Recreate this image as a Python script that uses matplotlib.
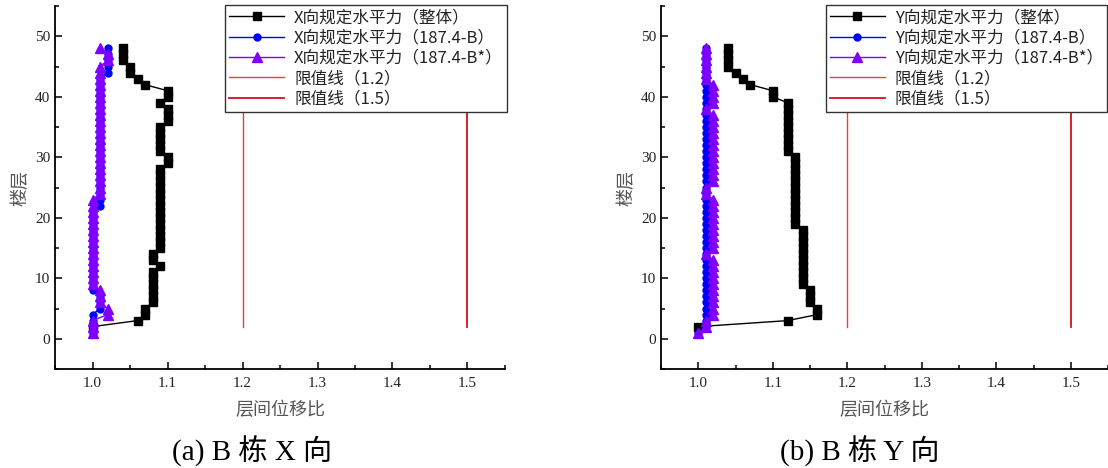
import matplotlib
matplotlib.use("Agg")
import matplotlib.pyplot as plt
from matplotlib.ticker import MultipleLocator

# floors (storeys)
floors_all = list(range(1, 49))
floors_whole = list(range(2, 49))

# (a) X direction
x_whole = [1.00, 1.06, 1.07, 1.07, 1.08, 1.08, 1.08, 1.08, 1.08, 1.08,   # 2-11
           1.09, 1.08, 1.08, 1.09, 1.09, 1.09, 1.09, 1.09, 1.09, 1.09,   # 12-21
           1.09, 1.09, 1.09, 1.09, 1.09, 1.09, 1.09, 1.10, 1.10, 1.09,   # 22-31
           1.09, 1.09, 1.09, 1.09, 1.10, 1.10, 1.10, 1.09, 1.10, 1.10,   # 32-41
           1.07, 1.06, 1.05, 1.05, 1.04, 1.04, 1.04]                     # 42-48
x_b = [1.00, 1.00, 1.00, 1.00, 1.01, 1.01, 1.01, 1.00, 1.00, 1.00,       # 1-10
       1.00, 1.00, 1.00, 1.00, 1.00, 1.00, 1.00, 1.00, 1.00, 1.00,       # 11-20
       1.00, 1.01, 1.01, 1.01, 1.01, 1.01, 1.01, 1.01, 1.01, 1.01,       # 21-30
       1.01, 1.01, 1.01, 1.01, 1.01, 1.01, 1.01, 1.01, 1.01, 1.01,       # 31-40
       1.01, 1.01, 1.01, 1.02, 1.02, 1.02, 1.02, 1.02]                   # 41-48
x_bs = [1.00, 1.00, 1.00, 1.02, 1.02, 1.01, 1.01, 1.01, 1.00, 1.00,      # 1-10
        1.00, 1.00, 1.00, 1.00, 1.00, 1.00, 1.00, 1.00, 1.00, 1.00,      # 11-20
        1.00, 1.00, 1.00, 1.01, 1.01, 1.01, 1.01, 1.01, 1.01, 1.01,      # 21-30
        1.01, 1.01, 1.01, 1.01, 1.01, 1.01, 1.01, 1.01, 1.01, 1.01,      # 31-40
        1.01, 1.01, 1.01, 1.01, 1.01, 1.02, 1.02, 1.01]                  # 41-48

# (b) Y direction
y_whole = [1.00, 1.12, 1.16, 1.16, 1.15, 1.15, 1.15, 1.14, 1.14, 1.14,   # 2-11
           1.14, 1.14, 1.14, 1.14, 1.14, 1.14, 1.14, 1.13, 1.13, 1.13,   # 12-21
           1.13, 1.13, 1.13, 1.13, 1.13, 1.13, 1.13, 1.13, 1.13, 1.12,   # 22-31
           1.12, 1.12, 1.12, 1.12, 1.12, 1.12, 1.12, 1.12, 1.10, 1.10,   # 32-41
           1.07, 1.06, 1.05, 1.04, 1.04, 1.04, 1.04]                     # 42-48
y_b = [1.00, 1.01, 1.01, 1.01, 1.01, 1.01, 1.01, 1.01, 1.01, 1.01,       # 1-10
       1.01, 1.01, 1.01, 1.01, 1.01, 1.01, 1.01, 1.01, 1.01, 1.01,       # 11-20
       1.01, 1.01, 1.01, 1.01, 1.01, 1.01, 1.01, 1.01, 1.01, 1.01,       # 21-30
       1.01, 1.01, 1.01, 1.01, 1.01, 1.01, 1.01, 1.01, 1.01, 1.01,       # 31-40
       1.01, 1.01, 1.01, 1.01, 1.01, 1.01, 1.01, 1.01]                   # 41-48
y_bs = [1.00, 1.01, 1.01, 1.02, 1.02, 1.02, 1.02, 1.02, 1.02, 1.02,      # 1-10
        1.02, 1.02, 1.02, 1.01, 1.02, 1.02, 1.02, 1.02, 1.02, 1.02,      # 11-20
        1.02, 1.02, 1.02, 1.01, 1.01, 1.02, 1.02, 1.02, 1.02, 1.02,      # 21-30
        1.02, 1.02, 1.02, 1.02, 1.02, 1.02, 1.02, 1.01, 1.02, 1.02,      # 31-40
        1.02, 1.02, 1.01, 1.01, 1.01, 1.01, 1.01, 1.01]                  # 41-48

limit_values = [1.2, 1.5]
limit_floors = [2, 48]

panels = [
    ("X", x_whole, x_b, x_bs, "(a) B 栋 X 向"),
    ("Y", y_whole, y_b, y_bs, "(b) B 栋 Y 向"),
]

serif = ["Liberation Serif", "Noto Sans CJK SC"]
cjk = ["Noto Sans CJK SC", "DejaVu Sans"]

fig = plt.figure(figsize=(11.08, 4.68), dpi=100)
W, H = 1108, 468
axes_px = [(55, 450), (661, 447)]
legend_right = [507, 1107]
caption_x = [252, 860]

for i, (d, whole, b, bs, caption) in enumerate(panels):
    left, width = axes_px[i]
    ax = fig.add_axes([left / W, 99 / H, width / W, 363 / H])

    ax.plot(whole, floors_whole, color="black", marker="s", ms=6, lw=1,
            label=d + "向规定水平力（整体）")
    ax.plot(b, floors_all, color="#0000ff", marker="o", ms=5, lw=1,
            label=d + "向规定水平力（187.4-B）")
    ax.plot(bs, floors_all, color="#8000ff", marker="^", ms=7, lw=1,
            label=d + "向规定水平力（187.4-B*）")
    ax.plot([limit_values[0]] * 2, limit_floors, color="#f03c3c", lw=1,
            label="限值线（1.2）")
    ax.plot([limit_values[1]] * 2, limit_floors, color="#d4101e", lw=1.3,
            label="限值线（1.5）")

    ax.set_xlim(0.95, 1.55)
    ax.set_ylim(-5, 55)
    ax.xaxis.set_major_locator(MultipleLocator(0.1))
    ax.xaxis.set_minor_locator(MultipleLocator(0.05))
    ax.yaxis.set_major_locator(MultipleLocator(10))
    ax.yaxis.set_minor_locator(MultipleLocator(5))
    ax.set_xticks([1.0, 1.1, 1.2, 1.3, 1.4, 1.5])
    ax.set_xticklabels(["1.0", "1.1", "1.2", "1.3", "1.4", "1.5"])
    ax.tick_params(which="both", direction="in", width=1.1, colors="black",
                   labelsize=11, labelcolor="#222222")
    ax.tick_params(which="major", length=5)
    ax.tick_params(which="minor", length=3)
    for lab in ax.get_xticklabels() + ax.get_yticklabels():
        lab.set_family(serif)
    ax.tick_params(axis="x", pad=6)
    for s in ["top", "right"]:
        ax.spines[s].set_visible(False)
    for s in ["left", "bottom"]:
        ax.spines[s].set_linewidth(1.3)

    ax.set_xlabel("层间位移比", family=cjk, fontsize=13, color="#555555", labelpad=8)
    ax.set_ylabel("楼层", family=cjk, fontsize=13, color="#555555", labelpad=4)

    leg = ax.legend(loc="upper right", bbox_to_anchor=(legend_right[i] / W, 1 - 5 / H),
                    bbox_transform=fig.transFigure, prop={"family": cjk, "size": 12},
                    fancybox=False, framealpha=1, edgecolor="#333333",
                    borderpad=0.25, labelspacing=0.2, handlelength=3.3,
                    handletextpad=0.6, borderaxespad=0)
    leg.get_frame().set_linewidth(1.0)
    for t in leg.get_texts():
        t.set_color("#222222")

    fig.text(caption_x[i] / W, 1 - 450 / H, caption, family=serif, fontsize=21,
             ha="center", va="center")

fig.savefig("out.png", dpi=100)
